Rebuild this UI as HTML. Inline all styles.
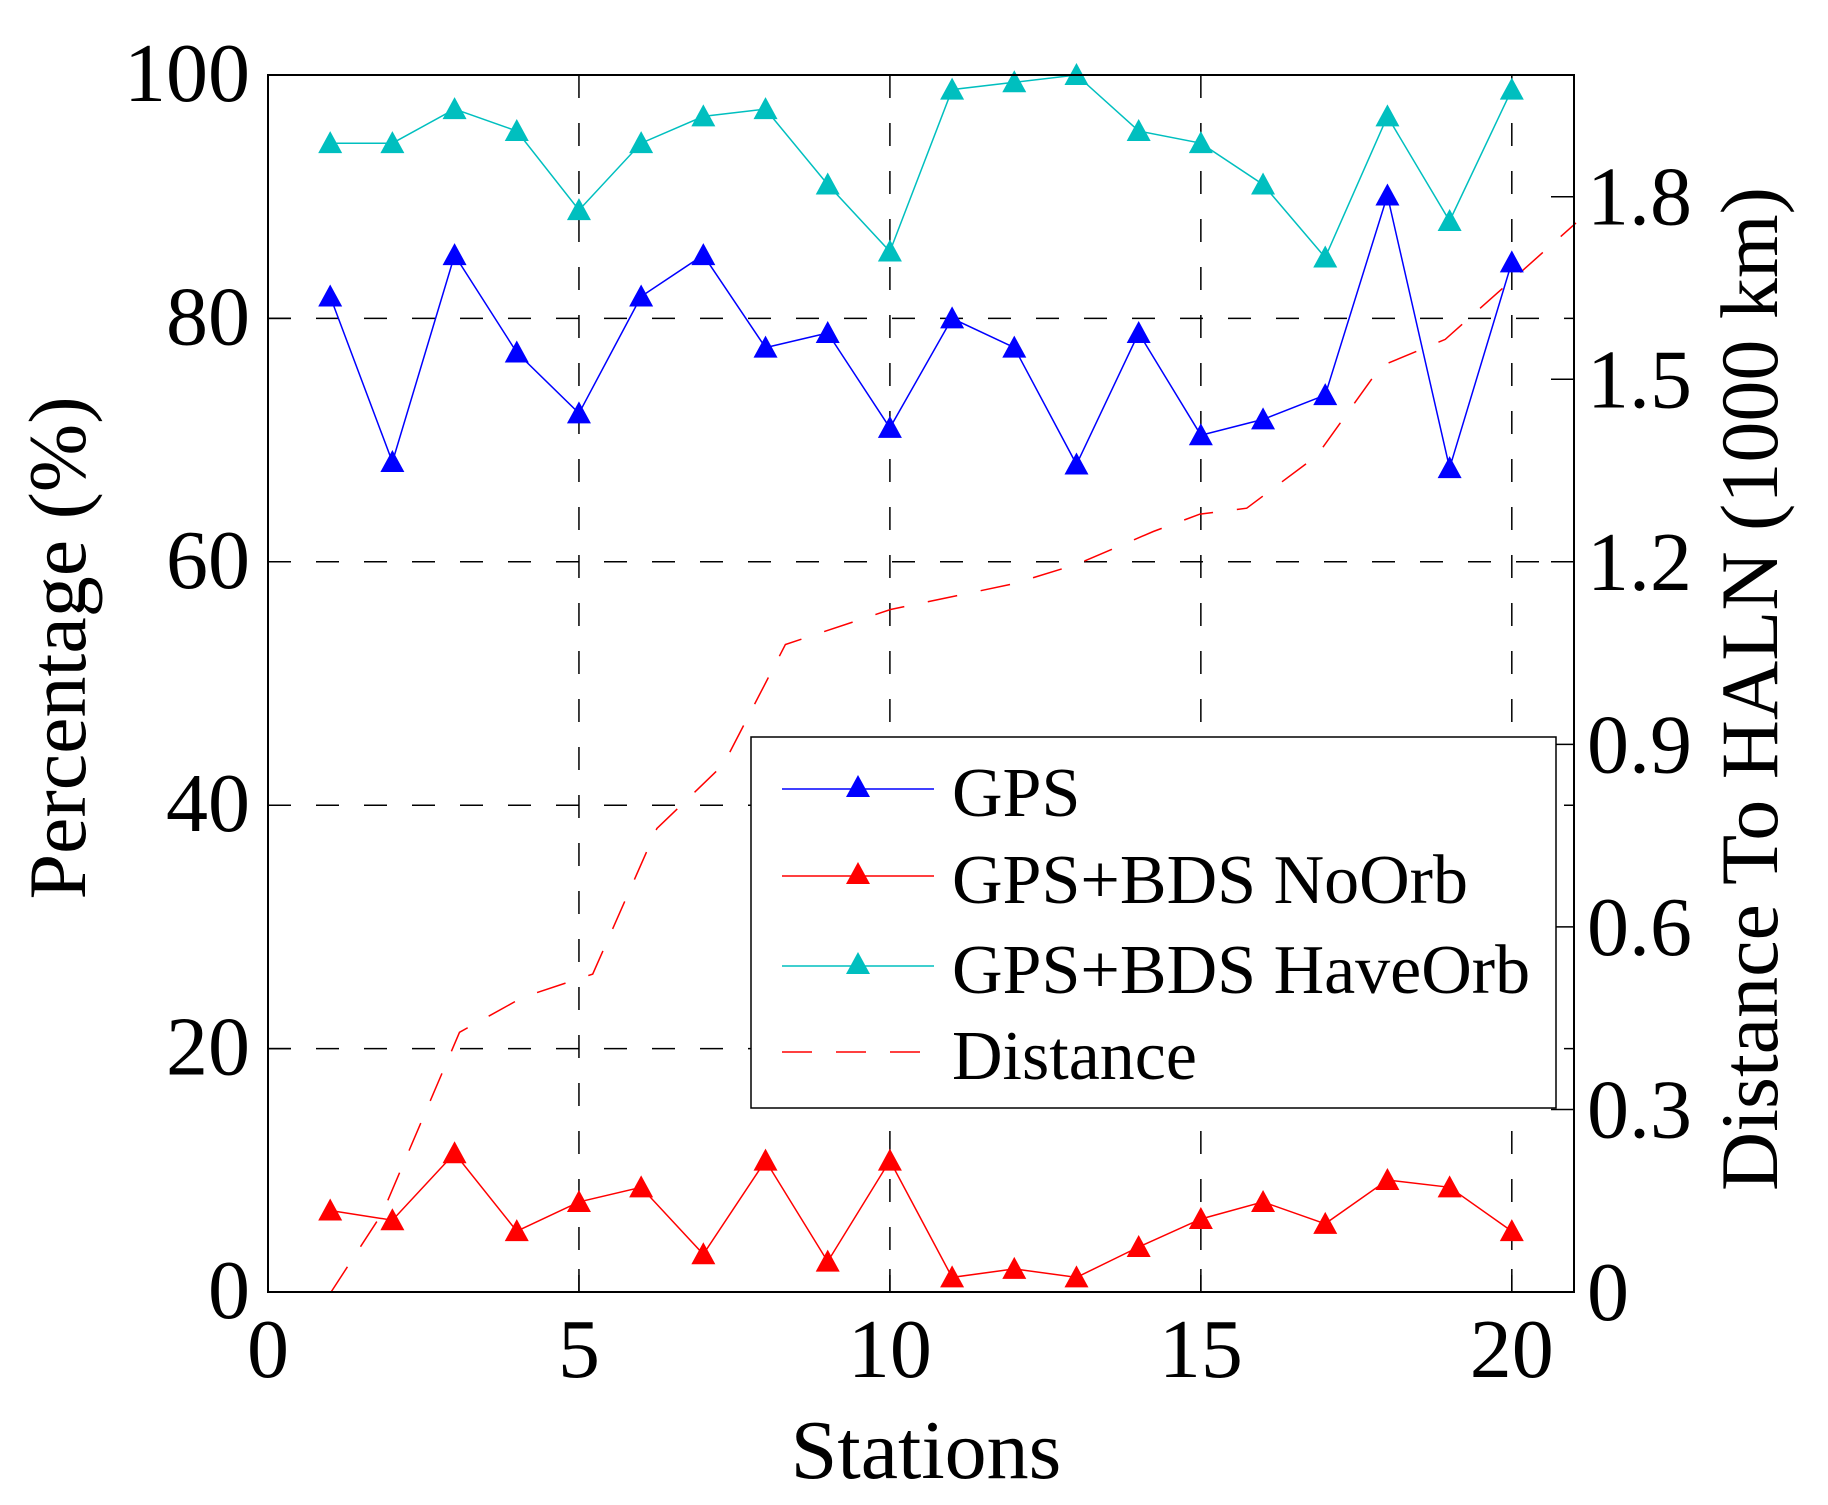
<!DOCTYPE html>
<html><head><meta charset="utf-8"><style>
html,body{margin:0;padding:0;background:#fff;}
svg text{font-family:"Liberation Serif","Times New Roman",Times,serif;fill:#000;}
</style></head><body>
<svg id="s" width="1828" height="1500" xmlns="http://www.w3.org/2000/svg"></svg>
<script>
var F=' font-family="Liberation Serif, Times New Roman, Times, serif"';
var L=268,T=75,R=1574,B=1292;
function X(v){return L+v*(R-L)/21;}
function Y(p){return B-p*(B-T)/100;}
var cy=[94.4,94.4,97.2,95.4,88.9,94.4,96.6,97.2,91.0,85.5,98.8,99.4,100,95.4,94.4,91,85,96.6,88,98.8];
var bl=[81.8,68.2,85.2,77.2,72.2,81.8,85.2,77.6,78.8,71,80,77.6,68,78.8,70.4,71.7,73.7,90.1,67.7,84.6];
var rd=[6.7,5.9,11.4,5,7.4,8.6,3.1,10.8,2.5,10.8,1.2,1.9,1.2,3.7,6,7.4,5.6,9.2,8.6,5];
var dd=[[286,1108],[330,1040],[396,885],[450,855],[510,835],[565,710],[622,655],[675,552],[765,522],[870,500],[925,483],[990,455],[1030,440],[1070,435],[1130,390],[1185,313],[1240,290],[1352,190]];
var h='';
[20,40,60,80].forEach(function(p){h+='<line x1="'+L+'" x2="'+R+'" y1="'+Y(p)+'" y2="'+Y(p)+'" stroke="#000" stroke-width="1.5" stroke-dasharray="23 25"/>';});
[5,10,15,20].forEach(function(v){h+='<line x1="'+X(v)+'" x2="'+X(v)+'" y1="'+T+'" y2="'+B+'" stroke="#000" stroke-width="1.5" stroke-dasharray="23 25"/>';});
for(var p=0;p<=100;p+=20){h+='<line x1="'+L+'" x2="'+(L+23)+'" y1="'+Y(p)+'" y2="'+Y(p)+'" stroke="#000" stroke-width="1.5"/>';
h+='<text'+F+' x="250" y="'+(Y(p)+26)+'" font-size="84" text-anchor="end">'+p+'</text>';}
for(var v=0;v<=20;v+=5){h+='<line x1="'+X(v)+'" x2="'+X(v)+'" y1="'+B+'" y2="'+(B-23)+'" stroke="#000" stroke-width="1.5"/>';
h+='<text'+F+' x="'+X(v)+'" y="1377" font-size="84" text-anchor="middle">'+v+'</text>';}
var rl=['0','0.3','0.6','0.9','1.2','1.5','1.8'];
for(var i=0;i<7;i++){var y=B-i*0.3*(B-T)/2;h+='<line x1="'+R+'" x2="'+(R-23)+'" y1="'+y+'" y2="'+y+'" stroke="#000" stroke-width="1.5"/>';
h+='<text'+F+' x="1587" y="'+(y+28)+'" font-size="84">'+rl[i]+'</text>';}
var pts=dd.map(function(d){var st=(d[0]-232)/53.25, pc=(1108-d[1])/10.45;return X(st).toFixed(1)+','+Y(pc).toFixed(1);}).join(' ');
h+='<polyline points="'+pts+'" fill="none" stroke="#f00" stroke-width="1.5" stroke-dasharray="30 24"/>';
function ser(a,c){var p=a.map(function(v,i){return X(i+1).toFixed(1)+','+Y(v).toFixed(1);}).join(' ');
var s='<polyline points="'+p+'" fill="none" stroke="'+c+'" stroke-width="1.5"/>';
a.forEach(function(v,i){s+=tri(X(i+1),Y(v),c);});return s;}
function tri(x,y,c){return '<polygon points="'+(x-12)+','+(y+10)+' '+(x+12)+','+(y+10)+' '+x+','+(y-12)+'" fill="'+c+'"/>';}
h+=ser(cy,'#00bfbf')+ser(bl,'#0000ff')+ser(rd,'#ff0000');
h+='<rect x="'+L+'" y="'+T+'" width="'+(R-L)+'" height="'+(B-T)+'" fill="none" stroke="#000" stroke-width="2"/>';
h+='<rect x="751" y="737" width="805" height="371" fill="#fff" stroke="#000" stroke-width="1.5"/>';
var lg=[['GPS','#0000ff',789,0],['GPS+BDS NoOrb','#ff0000',876,0],['GPS+BDS HaveOrb','#00bfbf',966,0],['Distance','#ff0000',1052,1]];
lg.forEach(function(e){
 if(e[3]) h+='<line x1="782" x2="934" y1="'+e[2]+'" y2="'+e[2]+'" stroke="'+e[1]+'" stroke-width="1.5" stroke-dasharray="30 24"/>';
 else {h+='<line x1="782" x2="934" y1="'+e[2]+'" y2="'+e[2]+'" stroke="'+e[1]+'" stroke-width="1.5"/>'+tri(858,e[2]-2,e[1]);}
 h+='<text'+F+' x="952" y="'+(e[2]+27)+'" font-size="70">'+e[0]+'</text>';});
h+='<text'+F+' x="926" y="1478" font-size="84" text-anchor="middle">Stations</text>';
h+='<text'+F+' transform="translate(85,648) rotate(-90)" font-size="82" text-anchor="middle">Percentage (%)</text>';
h+='<text'+F+' transform="translate(1777,689) rotate(-90)" font-size="82" text-anchor="middle">Distance To HALN (1000 km)</text>';
document.getElementById('s').innerHTML=h;
</script>
</body></html>
